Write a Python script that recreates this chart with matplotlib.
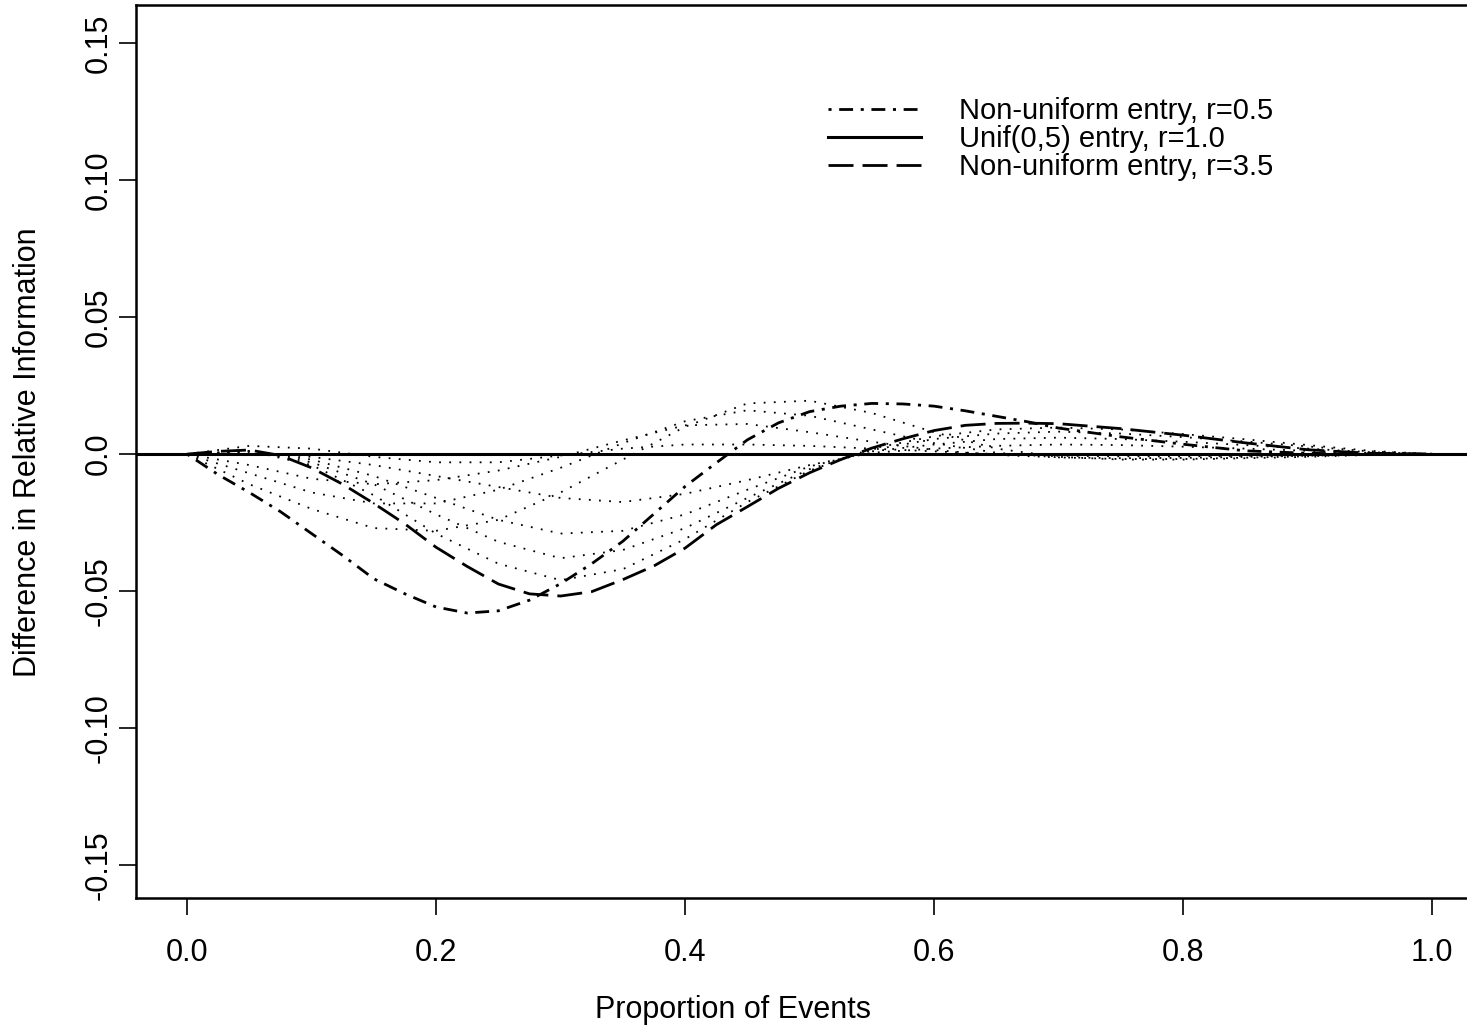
import numpy as np
import matplotlib
matplotlib.use("Agg")
import matplotlib.pyplot as plt

plt.rcParams['font.family'] = ['Liberation Sans', 'DejaVu Sans']
plt.rcParams['lines.scale_dashes'] = False

# proportion of events (x grid for the read-off values)
prop = [0.0, 0.025, 0.05, 0.075, 0.1, 0.125, 0.15, 0.175, 0.2, 0.225, 0.25, 0.275, 0.3,
        0.325, 0.35, 0.375, 0.4, 0.425, 0.45, 0.475, 0.5, 0.525, 0.55, 0.575, 0.6,
        0.625, 0.65, 0.675, 0.7, 0.75, 0.8, 0.85, 0.9, 0.95, 1.0]

# non-uniform entry, r=0.5
r05 = [0.0, -0.0075, -0.014, -0.021, -0.029, -0.037, -0.0455, -0.051, -0.0558, -0.058, -0.0572,
       -0.0533, -0.0473, -0.040, -0.0318, -0.0218, -0.0118, -0.0032, 0.0052, 0.0114, 0.0155,
       0.0175, 0.0185, 0.0183, 0.0175, 0.0158, 0.0138, 0.0118, 0.0095, 0.0063, 0.0036, 0.0012,
       0.0003, 0.0, 0.0]

# non-uniform entry, r=3.5
r35 = [0.0, 0.001, 0.0015, -0.0005, -0.005, -0.011, -0.018, -0.0255, -0.034, -0.041, -0.0474,
       -0.051, -0.0518, -0.0502, -0.0458, -0.0408, -0.0343, -0.0258, -0.0192, -0.0125, -0.0068,
       -0.002, 0.0022, 0.0056, 0.0086, 0.0105, 0.0112, 0.0113, 0.0111, 0.0093, 0.0069, 0.0041,
       0.0016, 0.0003, 0.0]

# intermediate curves (dotted), read on a coarser grid
prop_d = [0.0, 0.05, 0.1, 0.15, 0.2, 0.25, 0.3, 0.35, 0.4, 0.45, 0.5, 0.55, 0.6, 0.65,
          0.7, 0.75, 0.8, 0.85, 0.9, 0.95, 1.0]
dotted = [
    [0, -.011, -.020, -.027, -.028, -.024, -.014, -.002, .010, .0185, .0195, .015, .008, .002,
     -.001, -.002, -.002, -.0015, -.001, -.0003, 0],
    [0, -.007, -.014, -.018, -.018, -.013, -.005, .004, .012, .016, .014, .009, .004, .0005,
     -.0012, -.0018, -.0018, -.0013, -.0008, -.0002, 0],
    [0, -.004, -.009, -.011, -.0095, -.006, -.001, .005, .0105, .011, .008, .0045, .0015, -.0003,
     -.0012, -.0015, -.0014, -.001, -.0006, -.0002, 0],
    [0, .003, .002, -.001, -.003, -.003, -.0005, .002, .0035, .0035, .003, .002, .001, 0,
     -.0006, -.0008, -.0008, -.0006, -.0004, -.0001, 0],
    [0, .0008, -.001, -.004, -.008, -.012, -.016, -.0175, -.0145, -.0095, -.004, .0005, .002,
     .003, .0035, .0033, .0027, .002, .0012, .0004, 0],
    [0, .001, -.002, -.008, -.016, -.024, -.029, -.028, -.022, -.013, -.0045, .001, .0035, .0055,
     .006, .0055, .0045, .0033, .002, .0007, 0],
    [0, .0011, -.003, -.011, -.022, -.032, -.038, -.035, -.027, -.016, -.0055, .0015, .0055,
     .0075, .0082, .0075, .0062, .0046, .0028, .001, 0],
    [0, .0012, -.004, -.015, -.029, -.040, -.046, -.042, -.031, -.0175, -.006, .002, .0065,
     .009, .0097, .009, .0073, .0054, .0033, .0012, 0],
]

xticks = [0.0, 0.2, 0.4, 0.6, 0.8, 1.0]
yticks = [-0.15, -0.10, -0.05, 0.0, 0.05, 0.10, 0.15]

W, H = 1467, 1031
fig = plt.figure(figsize=(W / 100, H / 100), dpi=100)
ax = fig.add_axes([136 / W, 1 - 898 / H, (1482 - 136) / W, (898 - 5) / H])

for d in dotted:
    ax.plot(prop_d, d, color='black', lw=1.3, dashes=(1.3, 6.0))

ax.plot(prop, r05, color='black', lw=2.0, dashes=(2.2, 5.5, 10, 5.5),
        label='Non-uniform entry, r=0.5')
ax.axhline(0, color='black', lw=2.2, label='Unif(0,5) entry, r=1.0')
ax.plot(prop, r35, color='black', lw=2.0, dashes=(18, 6.5),
        label='Non-uniform entry, r=3.5')

ax.set_xlim(-0.041, 1.040)
ax.set_ylim(-0.162, 0.1639)
ax.set_xticks(xticks)
ax.set_xticklabels(['%.1f' % v for v in xticks])
ax.set_yticks(yticks)
ax.set_yticklabels(['0.0' if v == 0 else '%.2f' % v for v in yticks], rotation=90, va='center')

for s in ['left', 'top', 'bottom', 'right']:
    ax.spines[s].set_linewidth(1.8)
ax.tick_params(axis='both', direction='out', length=12, width=1.2, labelsize=22)
ax.tick_params(axis='x', pad=17)
ax.tick_params(axis='y', pad=4)

fig.text(733 / W, 1 - 1010 / H, 'Proportion of Events', ha='center', va='center', fontsize=22)
fig.text(28 / W, 1 - 452 / H, 'Difference in Relative Information', ha='center', va='center',
         rotation=90, fontsize=22)

ax.legend(loc='upper left', bbox_to_anchor=(828 / W, 1 - 97 / H), bbox_transform=fig.transFigure,
          frameon=False, fontsize=21, handlelength=3.2, handletextpad=1.3, labelspacing=0.0,
          borderpad=0, borderaxespad=0)

fig.savefig('out.png', dpi=100)
